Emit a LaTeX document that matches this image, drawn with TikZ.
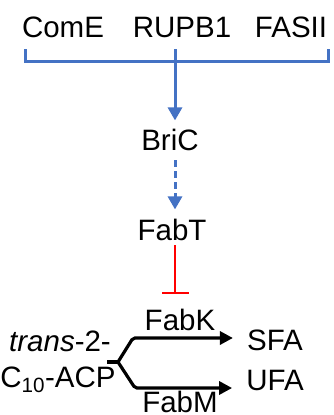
\documentclass[tikz,border=0pt]{standalone}
\usepackage{fontspec}
\setmainfont{Liberation Sans}
\usetikzlibrary{arrows.meta}
\definecolor{myblue}{HTML}{4472C4}
\definecolor{myred}{HTML}{FF0000}
\begin{document}
\begin{tikzpicture}[x=1pt,y=-1pt,
  lbl/.style={font=\fontsize{29.5}{34}\selectfont, inner sep=0pt, anchor=base},
  blue line/.style={draw=myblue, line width=3pt},
  blue arrow/.style={blue line, -{Triangle[length=13pt,width=14pt]}},
  black arrow/.style={draw=black, line width=3.2pt, rounded corners=2pt, -{Triangle[length=13pt,width=13pt]}},
  inhib/.style={draw=myred, line width=2.8pt, -{Bar[width=27pt,line width=2.8pt]}}]
\useasboundingbox (0,0) rectangle (333,415);
\node[lbl] (come) at (63,37) {ComE};
\node[lbl] (rupb) at (182,37) {RUPB1};
\node[lbl] (fasii) at (291,37) {FASII};
\node[lbl] (bric) at (170,150) {BriC};
\node[lbl] (fabt) at (172,240) {FabT};
\node[lbl] (fabk) at (180,330) {FabK};
\node[lbl] (sfa) at (275,350) {SFA};
\node[lbl] (ufa) at (275,390) {UFA};
\node[lbl] (fabm) at (180,412) {FabM};
\node[lbl] (trans) at (60,351) {\textit{trans}-2-};
\node[lbl] (acp) at (58,387) {C\textsubscript{10}-ACP};
% bracket
\coordinate (bl) at (25,49);
\coordinate (br) at (328,49);
\coordinate (bm) at (175,49);
\coordinate (junc) at (175,61);
\draw[blue line, line cap=butt] (bl) -- (bl |- junc) -- (br |- junc) -- (br);
\draw[blue line] (bm) -- (junc);
\draw[blue arrow] (junc) -- ([yshift=8pt]bric.north -| junc);
\draw[blue arrow, dash pattern=on 7pt off 4pt] ([yshift=-10pt]bric.south -| junc) -- ([yshift=9pt]fabt.north -| junc);
\draw[inhib] ([yshift=-5pt]fabt.south -| junc) -- ([yshift=14pt]fabk.north -| junc);
% fork
\coordinate (s) at (107,362);
\coordinate (f) at (118,362);
\coordinate (u) at (133,338);
\coordinate (l) at (135,388);
\draw[line width=3.2pt] (s) -- (f);
\draw[black arrow] (f) -- (u) -- ([xshift=-14pt]u -| sfa.west);
\draw[black arrow] (f) -- (l) -- ([xshift=-14pt]l -| ufa.west);
\end{tikzpicture}
\end{document}
